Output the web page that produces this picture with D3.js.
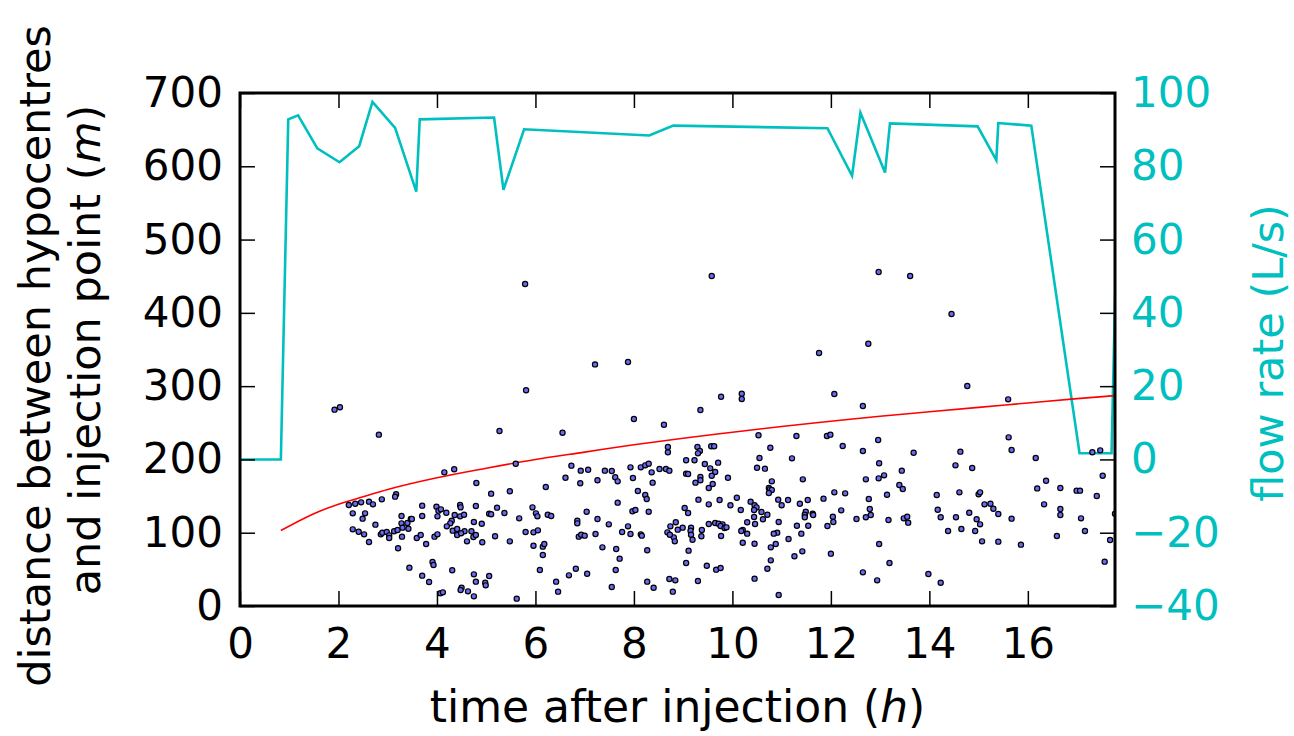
<!DOCTYPE html>
<html>
<head>
<meta charset="utf-8">
<script src="https://cdn.jsdelivr.net/npm/d3@7"></script>
<style>
  body { margin: 0; background: #fff; }
  text { font-family: "DejaVu Sans", sans-serif; }
</style>
</head>
<body>
<div id="chart"></div>
<script>
// data
// seismic events: time after injection (h) and distance to injection point (m)
const eventTime = [
  1.92, 2.03, 2.82, 4.15, 4.35, 2.88, 3.17, 3.15, 2.21, 2.34, 2.46, 2.62, 2.70, 2.29, 2.54, 2.49,
  2.75, 2.29, 2.41, 2.52, 2.62, 2.86, 2.89, 2.98, 3.03, 3.03, 3.13, 3.20, 3.21, 3.28, 3.28, 3.30,
  3.29, 3.40, 3.42, 3.47, 3.49, 3.59, 3.67, 3.70, 3.70, 3.78, 3.99, 4.03, 4.08, 4.01, 4.19, 4.36,
  4.30, 4.27, 4.20, 4.32, 4.41, 4.41, 3.95, 4.01, 3.44, 3.70, 3.84, 3.91, 3.93, 4.31, 4.07, 4.12,
  5.27, 6.55, 8.00, 8.61, 5.60, 4.80, 5.10, 5.48, 6.21, 6.73, 6.92, 7.07, 6.61, 6.91, 7.26, 7.41,
  7.55, 7.62, 7.67, 7.93, 7.98, 8.14, 8.23, 8.30, 8.36, 8.38, 8.52, 8.65, 8.72, 8.69, 8.69, 8.08,
  8.23, 8.26, 7.67, 4.47, 4.48, 4.79, 5.22, 4.47, 4.55, 5.06, 5.10, 5.37, 5.67, 5.94, 6.01, 6.04,
  6.25, 6.32, 6.85, 6.85, 7.04, 7.26, 7.49, 7.88, 7.97, 8.03, 8.30, 8.74, 4.75, 4.91, 4.56, 4.70,
  4.49, 4.74, 4.79, 4.61, 4.92, 5.18, 5.48, 5.80, 5.96, 6.05, 5.96, 6.15, 6.18, 6.15, 6.09, 6.88,
  6.93, 7.00, 7.22, 7.36, 7.64, 7.71, 7.63, 7.76, 7.93, 8.14, 8.16, 8.27, 8.68, 6.68, 6.82, 7.05,
  6.42, 6.46, 7.55, 5.62, 4.75, 4.79, 5.06, 4.98, 4.99, 4.50, 4.48, 4.63, 4.75, 8.27, 8.40, 8.72,
  9.35, 12.65, 10.53, 11.30, 11.92, 11.99, 12.24, 12.65, 12.96, 12.98, 13.08, 12.97, 12.71, 9.29, 9.34, 9.30,
  9.57, 9.63, 9.06, 9.23, 9.44, 9.55, 9.71, 9.65, 9.58, 9.06, 9.10, 9.35, 9.35, 9.25, 9.60, 9.52,
  9.91, 10.55, 10.50, 10.66, 10.77, 11.21, 11.43, 10.80, 10.74, 10.76, 10.80, 10.74, 12.07, 12.29, 12.77, 13.14,
  12.79, 12.81, 12.71, 12.52, 12.98, 13.17, 9.31, 9.52, 9.74, 9.03, 9.10, 9.96, 10.09, 10.17, 10.37, 10.45,
  10.49, 10.44, 10.44, 10.59, 10.71, 10.62, 10.46, 10.30, 10.21, 10.18, 10.30, 10.21, 10.45, 10.93, 11.00, 11.13,
  11.37, 11.53, 11.49, 11.47, 11.47, 11.63, 11.64, 11.85, 12.21, 12.04, 12.05, 11.93, 11.54, 11.31, 11.40, 10.94,
  10.91, 10.84, 11.14, 10.88, 10.78, 11.42, 11.26, 10.78, 10.71, 10.45, 10.94, 12.00, 12.65, 12.94, 9.65, 9.72,
  9.80, 9.76, 9.84, 9.88, 9.52, 9.38, 9.37, 9.16, 9.15, 9.16, 9.19, 8.99, 8.89, 8.85, 8.81, 8.83,
  8.73, 9.77, 9.11, 9.06, 9.48, 9.67, 9.76, 9.30, 8.84, 8.79,
  15.61, 15.67, 16.16, 13.68, 14.63, 14.53, 14.87, 13.44, 13.39, 13.46, 14.15, 14.61, 15.00, 15.03, 15.12, 15.24,
  15.30, 15.40, 14.17, 14.23, 14.54, 14.81, 14.96, 15.03, 14.93, 14.65, 14.38, 15.07, 15.40, 15.67, 15.86, 13.48,
  13.55, 13.57, 13.19, 13.98, 14.23, 16.37, 16.19, 16.66, 16.33, 16.66, 16.66, 16.59, 16.99, 17.06, 17.08, 17.16,
  17.40, 17.52, 17.31, 17.47, 17.67, 17.56, 17.77,
  5.79, 5.81, 7.21, 7.88, 9.58, 12.97, 13.61, 14.45, 12.76, 11.76, 14.77, 15.60, 9.77, 10.19, 10.19, 12.07
];
const eventDistance = [
  267.9, 271.1, 233.8, 182.4, 186.5, 145.5, 152.4, 149.2, 137.8, 139.6, 141.4, 142.4, 138.7, 126.4, 126.4, 119.2,
  111.0, 104.6, 101.4, 97.8, 87.3, 97.8, 100.1, 101.0, 96.4, 92.8, 101.9, 103.7, 78.7, 122.8, 112.8, 106.9,
  94.6, 113.2, 105.5, 118.7, 118.7, 92.8, 96.9, 136.9, 122.8, 84.6, 135.5, 130.1, 131.9, 122.3, 127.3, 124.2,
  116.4, 112.8, 108.7, 102.8, 105.1, 96.9, 94.6, 97.8, 52.3, 41.4, 32.7, 60.0, 55.9, 48.7, 17.3, 18.6,
  238.8, 236.5, 255.2, 247.4, 194.2, 167.8, 153.3, 156.5, 162.4, 191.5, 184.7, 186.0, 175.1, 167.4, 171.5, 184.7,
  184.2, 175.6, 170.1, 189.2, 174.6, 189.2, 191.9, 194.2, 182.4, 168.3, 186.9, 186.9, 184.7, 209.7, 216.9, 156.9,
  151.5, 146.0, 141.0, 137.8, 134.6, 136.4, 134.2, 122.3, 124.6, 126.0, 125.1, 126.9, 119.6, 134.6, 126.4, 122.3,
  124.6, 122.8, 116.4, 112.8, 128.7, 118.7, 111.4, 108.7, 129.2, 131.0, 128.7, 108.7, 114.6, 112.3, 101.9, 101.9,
  99.2, 94.1, 96.9, 88.2, 86.9, 95.1, 88.2, 101.0, 100.5, 103.2, 82.3, 81.0, 84.6, 69.6, 49.1, 94.6,
  97.3, 96.0, 98.2, 80.0, 77.8, 64.6, 49.1, 101.0, 98.2, 97.8, 96.0, 76.0, 100.5, 41.8, 50.9, 44.1,
  33.2, 19.6, 25.9, 10.0, 43.2, 33.2, 40.9, 31.8, 28.2, 25.0, 21.8, 20.0, 13.2, 33.2, 25.0, 36.8,
  267.4, 272.9, 232.9, 232.0, 232.0, 233.8, 218.3, 211.5, 226.5, 194.7, 178.3, 174.2, 172.8, 216.9, 211.5, 208.3,
  217.9, 217.9, 198.8, 198.8, 193.8, 187.8, 195.6, 182.8, 177.8, 180.6, 180.1, 176.0, 171.5, 168.3, 166.5, 161.0,
  175.1, 201.9, 188.7, 187.4, 216.0, 201.5, 172.8, 170.1, 161.0, 159.2, 158.3, 154.2, 155.1, 153.7, 146.0, 151.9,
  132.4, 124.2, 121.0, 118.7, 84.6, 117.3, 145.1, 138.7, 144.6, 133.7, 126.9, 137.4, 147.8, 131.0, 142.4, 137.4,
  134.6, 131.0, 121.4, 128.3, 124.6, 118.3, 111.9, 114.2, 103.7, 102.3, 98.7, 86.4, 85.0, 145.1, 137.4, 144.6,
  139.6, 144.6, 128.7, 124.6, 121.0, 126.0, 124.2, 146.5, 130.5, 121.9, 114.6, 109.2, 109.6, 109.6, 98.7, 114.6,
  100.1, 98.7, 91.4, 84.6, 80.0, 74.6, 67.8, 62.3, 50.9, 37.3, 15.0, 71.4, 45.9, 35.0, 113.2, 112.3,
  111.4, 109.2, 106.4, 107.3, 111.9, 103.7, 95.1, 106.9, 102.8, 97.3, 90.5, 106.9, 104.2, 114.2, 93.7, 88.2,
  97.3, 95.5, 75.5, 58.7, 55.0, 49.6, 51.9, 34.1, 35.0, 19.6,
  230.1, 212.9, 201.9, 209.2, 210.6, 191.9, 188.3, 184.7, 165.1, 159.6, 151.5, 155.1, 152.4, 155.1, 138.7, 139.6,
  132.8, 125.5, 131.4, 121.0, 121.0, 127.3, 118.3, 111.4, 102.3, 105.1, 102.3, 88.2, 87.8, 119.2, 83.7, 119.6,
  121.9, 113.7, 58.7, 43.7, 31.8, 171.0, 160.5, 161.0, 138.7, 132.4, 124.2, 95.5, 157.4, 157.4, 119.6, 102.3,
  150.1, 177.8, 209.7, 212.4, 90.1, 60.5, 126.0,
  439.3, 294.3, 329.7, 332.9, 450.3, 455.7, 450.3, 398.4, 357.9, 345.2, 300.2, 282.0, 285.6, 289.7, 282.4, 289.3
];

// red envelope curve
const envelopeTime = [0.83, 1.5, 2, 2.5, 3, 4, 5, 6, 7, 8, 9, 10, 11, 12, 13, 14, 15, 16, 17, 17.77];
const envelopeDistance = [103, 126, 139, 149, 159, 175, 188, 200, 210, 220, 229, 237, 245, 252, 259, 265, 271, 277, 283, 287];

// flow rate (L/s), right axis
const flowTime = [0, 0.83, 0.98, 1.18, 1.57, 2.02, 2.42, 2.69, 3.15, 3.58, 3.65, 5.16, 5.35, 5.77,
  8.31, 8.80, 11.93, 12.43, 12.60, 13.10, 13.20, 14.98, 15.36, 15.40, 16.07, 17.05, 17.70, 17.85];
const flowRate = [0, 0, 92.8, 93.9, 84.9, 81.1, 85.5, 97.6, 90.5, 73.1, 92.8, 93.3, 73.6, 90.1,
  88.4, 91.1, 90.4, 77.4, 94.6, 78.3, 91.7, 90.9, 81.7, 91.8, 91.1, 1.7, 1.7, 90];

const xTicks = [0, 2, 4, 6, 8, 10, 12, 14, 16];
const yTicks = [0, 100, 200, 300, 400, 500, 600, 700];
const flowTicks = [-40, -20, 0, 20, 40, 60, 80, 100];

// chart size
const width = 1294;
const height = 736;
const margin = { top: 93, right: 179, bottom: 130, left: 240 };
const fontSize = 42;
const cyan = "#00bfbf";

const svg = d3.select("#chart")
  .append("svg")
  .attr("width", width)
  .attr("height", height);

// scales
const xScale = d3.scaleLinear()
  .domain([0, 17.77])
  .range([margin.left, width - margin.right]);

const yScale = d3.scaleLinear()
  .domain([0, 700])
  .range([height - margin.bottom, margin.top]);

const flowScale = d3.scaleLinear()
  .domain([-40, 100])
  .range([height - margin.bottom, margin.top]);

svg.append("clipPath")
  .attr("id", "plot-clip")
  .append("rect")
  .attr("x", margin.left)
  .attr("y", margin.top)
  .attr("width", width - margin.left - margin.right)
  .attr("height", height - margin.top - margin.bottom);

// flow rate line
const flowLine = d3.line()
  .x((d, i) => xScale(flowTime[i]))
  .y(d => flowScale(d));

svg.append("path")
  .datum(flowRate)
  .attr("clip-path", "url(#plot-clip)")
  .attr("fill", "none")
  .attr("stroke", cyan)
  .attr("stroke-width", 2.6)
  .attr("stroke-linejoin", "miter")
  .attr("d", flowLine);

// envelope curve
const envelopeLine = d3.line()
  .x((d, i) => xScale(envelopeTime[i]))
  .y(d => yScale(d))
  .curve(d3.curveMonotoneX);

svg.append("path")
  .datum(envelopeDistance)
  .attr("fill", "none")
  .attr("stroke", "#ff0000")
  .attr("stroke-width", 1.6)
  .attr("d", envelopeLine);

// events
svg.append("g")
  .attr("clip-path", "url(#plot-clip)")
  .selectAll("circle")
  .data(eventDistance)
  .enter()
  .append("circle")
  .attr("cx", (d, i) => xScale(eventTime[i]))
  .attr("cy", d => yScale(d))
  .attr("r", 2.6)
  .attr("fill", "#6a6af2")
  .attr("stroke", "#000")
  .attr("stroke-width", 1.2);

// axes, ticks pointing inwards
function styleAxis(g, color) {
  g.select(".domain").remove();
  g.selectAll(".tick line").attr("stroke", "#000").attr("stroke-width", 1.5);
  g.selectAll(".tick text")
    .attr("fill", color)
    .style("font-size", fontSize + "px")
    .style("font-family", "'DejaVu Sans', sans-serif");
}

const fmt = d => d < 0 ? "\u2212" + Math.abs(d) : String(d);

svg.append("g")
  .attr("transform", `translate(0, ${height - margin.bottom})`)
  .call(d3.axisBottom(xScale).tickValues(xTicks).tickSize(-15).tickPadding(22).tickFormat(fmt))
  .call(g => styleAxis(g, "#000"));

svg.append("g")
  .attr("transform", `translate(0, ${margin.top})`)
  .call(d3.axisTop(xScale).tickValues(xTicks).tickSize(-15).tickFormat(""))
  .call(g => styleAxis(g, "#000"));

svg.append("g")
  .attr("transform", `translate(${margin.left}, 0)`)
  .call(d3.axisLeft(yScale).tickValues(yTicks).tickSize(-15).tickPadding(17).tickFormat(fmt))
  .call(g => styleAxis(g, "#000"));

svg.append("g")
  .attr("transform", `translate(${width - margin.right}, 0)`)
  .call(d3.axisRight(flowScale).tickValues(flowTicks).tickSize(-15).tickPadding(16).tickFormat(fmt))
  .call(g => styleAxis(g, cyan));

// frame
svg.append("rect")
  .attr("x", margin.left)
  .attr("y", margin.top)
  .attr("width", width - margin.left - margin.right)
  .attr("height", height - margin.top - margin.bottom)
  .attr("fill", "none")
  .attr("stroke", "#000")
  .attr("stroke-width", 3);

// axis labels
const xLabel = svg.append("text")
  .attr("x", (margin.left + width - margin.right) / 2)
  .attr("y", 722)
  .attr("text-anchor", "middle")
  .style("font-size", "44px");
xLabel.append("tspan").text("time after injection (");
xLabel.append("tspan").style("font-style", "italic").text("h");
xLabel.append("tspan").text(")");

svg.append("text")
  .attr("transform", "translate(50, 356) rotate(-90)")
  .attr("text-anchor", "middle")
  .style("font-size", "43px")
  .text("distance between hypocentres");

const yLabel2 = svg.append("text")
  .attr("transform", "translate(100, 350) rotate(-90)")
  .attr("text-anchor", "middle")
  .style("font-size", "43px");
yLabel2.append("tspan").text("and injection point (");
yLabel2.append("tspan").style("font-style", "italic").text("m");
yLabel2.append("tspan").text(")");

svg.append("text")
  .attr("transform", "translate(1283, 353) rotate(-90)")
  .attr("text-anchor", "middle")
  .attr("fill", cyan)
  .style("font-size", "43px")
  .text("flow rate (L/s)");
</script>
</body>
</html>
